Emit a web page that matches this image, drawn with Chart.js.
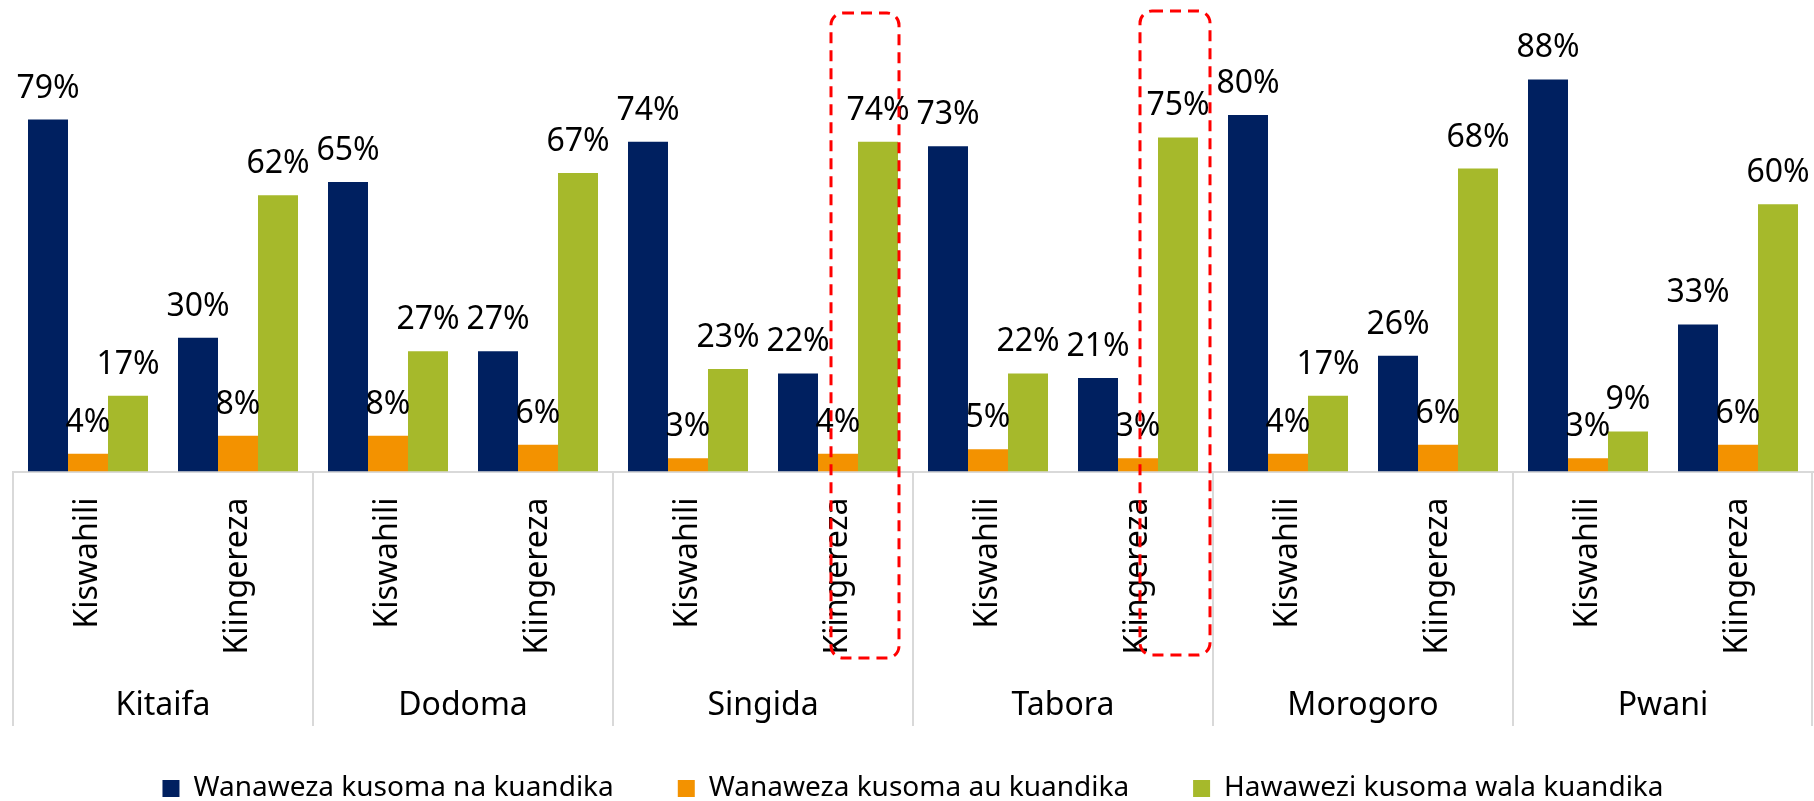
<!DOCTYPE html>
<html>
<head>
<meta charset="utf-8">
<script src="https://cdn.jsdelivr.net/npm/chart.js@4.4.1/dist/chart.umd.min.js"></script>
<style>
  html, body { margin: 0; padding: 0; background: #fff; }
  #wrap { width: 1814px; height: 801px; position: relative; }
</style>
</head>
<body>
<div id="wrap"><canvas id="chart"></canvas></div>
<script>
const regions = ['Kitaifa', 'Dodoma', 'Singida', 'Tabora', 'Morogoro', 'Pwani']
const subjects = ['Kiswahili', 'Kiingereza']
const seriesNames = ['Wanaweza kusoma na kuandika', 'Wanaweza kusoma au kuandika', 'Hawawezi kusoma wala kuandika']

// per region: Kiswahili, Kiingereza (percent)
const readAndWrite = [79, 30, 65, 27, 74, 22, 73, 21, 80, 26, 88, 33]
const readOrWrite = [4, 8, 8, 6, 3, 4, 5, 3, 4, 6, 3, 6]
const neither = [17, 62, 27, 67, 23, 74, 22, 75, 17, 68, 9, 60]

// bars circled with a red dashed box (Singida and Tabora, Kiingereza)
const highlighted = [5, 7]

const colors = ['#002060', '#F39200', '#A6B92B']
const FONT = 'Noto Sans'

const categoryLabels = regions.flatMap(() => subjects)
const seriesData = [readAndWrite, readOrWrite, neither]

// draws "nn%" above each bar
const valueLabels = {
    id: 'valueLabels',
    afterDatasetsDraw(chart) {
        let ctx = chart.ctx
        ctx.save()
        ctx.font = `32px "${FONT}"`
        ctx.fillStyle = '#000'
        ctx.textAlign = 'center'
        ctx.textBaseline = 'alphabetic'
        chart.data.datasets.forEach((ds, d) => {
            chart.getDatasetMeta(d).data.forEach((bar, i) => {
                ctx.fillText(ds.data[i] + '%', bar.x, bar.y - 22)
            })
        })
        ctx.restore()
    }
}

// vertical lines between the region groups, like excel's multi level axis
const groupLines = {
    id: 'groupLines',
    afterDraw(chart) {
        let g = chart.scales.groups
        let ctx = chart.ctx
        ctx.save()
        ctx.strokeStyle = '#d9d9d9'
        ctx.lineWidth = 2
        for (let i = 0; i <= regions.length; i++) {
            let x = Math.round(g.left + i * g.width / regions.length)
            if (i === regions.length) x -= 1
            ctx.beginPath()
            ctx.moveTo(x, chart.chartArea.bottom)
            ctx.lineTo(x, 726)
            ctx.stroke()
        }
        ctx.restore()
    }
}

// red dashed rounded boxes (hand drawn in the original, so each has its own offsets)
const boxOffsets = [{ l: -7, r: 1, top: 13, bottom: 658 }, { l: 2, r: 12, top: 11, bottom: 655 }]
const highlightBoxes = {
    id: 'highlightBoxes',
    afterDraw(chart) {
        let ctx = chart.ctx
        let orange = chart.getDatasetMeta(1).data
        let green = chart.getDatasetMeta(2).data
        ctx.save()
        ctx.strokeStyle = '#FF0000'
        ctx.lineWidth = 3
        ctx.setLineDash([11, 7])
        highlighted.forEach((i, k) => {
            let o = boxOffsets[k]
            let left = orange[i].x + o.l
            let right = green[i].x + green[i].width / 2 + o.r
            ctx.beginPath()
            ctx.roundRect(left, o.top, right - left, o.bottom - o.top, 12)
            ctx.stroke()
        })
        ctx.restore()
    }
}

new Chart(document.getElementById('chart'), {
    type: 'bar',
    data: {
        labels: categoryLabels,
        datasets: seriesData.map((data, i) => ({
            label: seriesNames[i],
            data: data,
            backgroundColor: colors[i],
            xAxisID: 'x',
            categoryPercentage: 0.8,
            barPercentage: 1.0,
        }))
    },
    options: {
        responsive: true,
        maintainAspectRatio: false,
        animation: false,
        devicePixelRatio: 1,
        layout: { padding: { top: 26, left: 13, right: 1, bottom: -11.5 } },
        scales: {
            x: {
                position: 'bottom',
                weight: 0,
                grid: { display: false },
                border: { display: true, color: '#d9d9d9', width: 2 },
                ticks: {
                    autoSkip: false,
                    minRotation: 90,
                    maxRotation: 90,
                    padding: 18,
                    color: '#000',
                    font: { family: FONT, size: 32 },
                },
                afterFit(scale) { scale.height = 185 },
            },
            groups: {
                type: 'category',
                position: 'bottom',
                weight: 1,
                labels: regions,
                offset: true,
                grid: { display: false },
                border: { display: false },
                ticks: {
                    // mirror avoids clipping the labels to the (short) axis box
                    mirror: true,
                    padding: -69,
                    color: '#000',
                    font: { family: FONT, size: 32 },
                },
                afterFit(scale) { scale.height = 54 },
            },
            y: {
                display: false,
                min: 0,
                max: 100,
            },
        },
        plugins: {
            legend: {
                position: 'bottom',
                labels: {
                    color: '#000',
                    font: { family: FONT, size: 28 },
                    boxWidth: 17,
                    boxHeight: 17,
                    padding: 64,
                },
            },
            tooltip: { enabled: false },
        },
    },
    plugins: [valueLabels, groupLines, highlightBoxes],
})
</script>
</body>
</html>
